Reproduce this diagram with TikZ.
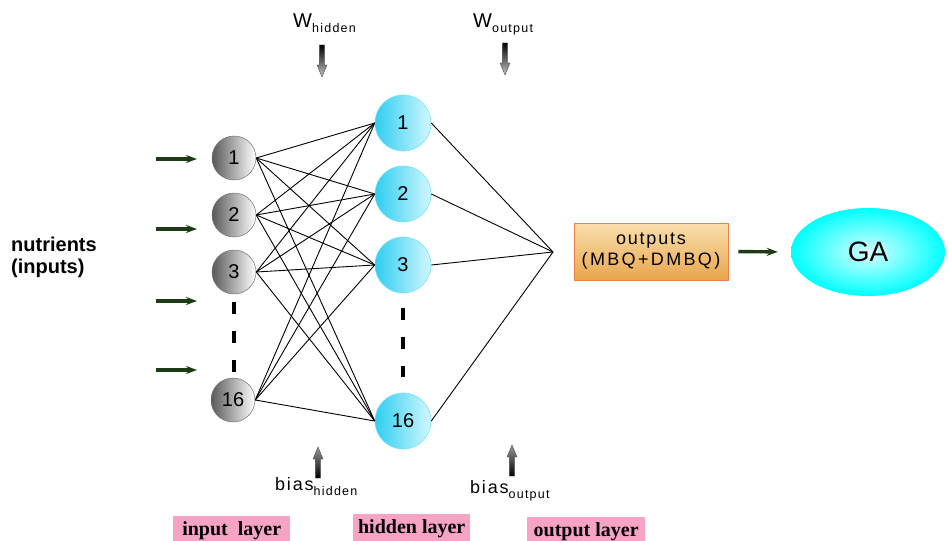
\documentclass[tikz,border=0pt]{standalone}
\usepackage{fontspec}
\setmainfont{Liberation Sans}
\newfontfamily\spaced[LetterSpace=10]{Liberation Sans}
\newfontfamily\widespaced[LetterSpace=13]{Liberation Sans}
\newfontfamily\labelserif{Liberation Serif}
\usetikzlibrary{arrows.meta,shapes.geometric}

\definecolor{feedgreen}{HTML}{1F3A16}
\definecolor{layerpink}{HTML}{F7A3C4}
\definecolor{hidleft}{HTML}{30CEF0}
\definecolor{hidright}{HTML}{D2F7FF}
\definecolor{hidedge}{HTML}{6FE4F8}
\definecolor{boxtop}{HTML}{F9DFAE}
\definecolor{boxbottom}{HTML}{E8A64C}
\definecolor{boxedge}{HTML}{F07E4C}

\tikzset{
  innode/.style={circle, minimum size=44pt, inner sep=0pt, draw=black!55, line width=0.5pt,
    left color=black!65, right color=white, font=\fontsize{20}{20}\selectfont},
  hidnode/.style={circle, minimum size=56pt, inner sep=0pt, draw=hidedge, line width=0.6pt,
    left color=hidleft, right color=hidright, font=\fontsize{20}{20}\selectfont},
  link/.style={line width=0.9pt, black},
  feed/.style={line width=3.4pt, feedgreen, -{Stealth[length=11pt,width=8pt]}},
  gapline/.style={line width=4pt, dash pattern=on 12pt off 17pt},
  layerbox/.style={fill=layerpink, inner sep=0pt, anchor=north west, minimum height=30pt,
    font=\labelserif\bfseries\fontsize{20}{20}\selectfont},
  lbl/.style={inner sep=0pt, anchor=base west},
  downarrow/.pic={\path[top color=black, bottom color=black!22, draw=black!70, line width=0.4pt]
    (-2.7,0) -- (2.7,0) -- (2.7,20) -- (5,20) -- (0,32) -- (-5,20) -- (-2.7,20) -- cycle;},
  uparrow/.pic={\path[top color=black!40, bottom color=black, draw=black!70, line width=0.4pt]
    (-2.7,0) -- (2.7,0) -- (2.7,-19) -- (5,-19) -- (0,-31) -- (-5,-19) -- (-2.7,-19) -- cycle;}
}

\begin{document}
\begin{tikzpicture}[x=1pt,y=-1pt]
\useasboundingbox (0,0) rectangle (949,540);

% input layer
\node[innode] (i1)  at (234,158) {1};
\node[innode] (i2)  at (234,215) {2};
\node[innode] (i3)  at (234,272) {3};
\node[innode] (i16) at (233,400) {16};

% hidden layer
\node[hidnode] (h1)  at (403,123) {1};
\node[hidnode] (h2)  at (403,194) {2};
\node[hidnode] (h3)  at (403,265) {3};
\node[hidnode] (h16) at (403,421) {16};

% summing point of the output layer
\coordinate (sum) at (553,252);

% full connections
\foreach \a in {i1,i2,i3,i16}
  \foreach \b in {h1,h2,h3,h16}
    \draw[link] (\a.east) -- (\b.west);
\foreach \b in {h1,h2,h3,h16}
  \draw[link] (\b.east) -- (sum);

% ellipsis between node 3 and node 16
\draw[gapline, shorten <=8pt, shorten >=6pt] (i3.south) -- (i3.south |- i16.north);
\draw[gapline, shorten <=15pt, shorten >=16pt] (h3.south) -- (h16.north);

% input feeds
\foreach \k/\y in {1/159,2/229,3/301,4/370}{
  \coordinate (fs\k) at (156,\y);
  \coordinate (fe\k) at (197,\y);
  \draw[feed] (fs\k) -- (fe\k);
}

% nutrients label
\node[inner sep=0pt, anchor=west, align=left, font=\bfseries\fontsize{20}{22}\selectfont]
  (nutr) at (11,257) {nutrients\\(inputs)};

% output box and GA
\node[draw=boxedge, line width=0.8pt, top color=boxtop, bottom color=boxbottom,
  minimum width=154pt, minimum height=57pt, align=center, inner sep=0pt,
  font=\fontsize{18}{21}\selectfont] (out) at (651,251.5)
  {{\spaced outputs}\\{\widespaced (MBQ+DMBQ)}};
\node[ellipse, minimum width=154pt, minimum height=88pt, inner sep=0pt,
  inner color=white!85!cyan, outer color=cyan, font=\fontsize{28}{28}\selectfont]
  (ga) at (868,252) {GA};
\draw[feed, shorten <=10pt, shorten >=13pt] (out.east) -- (ga.west);

% weights and biases
\node[lbl] (wh) at (293,28) {\fontsize{20}{20}\selectfont W\raisebox{-5pt}{\spaced\fontsize{12.5}{12.5}\selectfont hidden}};
\node[lbl] (wo) at (473,28) {\fontsize{20}{20}\selectfont W\raisebox{-5pt}{\spaced\fontsize{12.5}{12.5}\selectfont output}};
\pic at (322,45) {downarrow};
\pic at (505,43) {downarrow};

\node[lbl] (bh) at (275,490) {\spaced\fontsize{18}{18}\selectfont bias\raisebox{-5pt}{\fontsize{12.5}{12.5}\selectfont hidden}};
\node[lbl] (bo) at (470,493) {\spaced\fontsize{18}{18}\selectfont bias\raisebox{-5pt}{\fontsize{12.5}{12.5}\selectfont output}};
\pic at (318,478) {uparrow};
\pic at (512,476) {uparrow};

% layer captions
\node[layerbox, minimum width=117pt] (lin)  at (173,516) {input\ \ layer};
\node[layerbox, minimum width=117pt] (lhid) at (353,514) {hidden layer};
\node[layerbox, minimum width=118pt] (lout) at (527,517) {output layer};
\end{tikzpicture}
\end{document}
